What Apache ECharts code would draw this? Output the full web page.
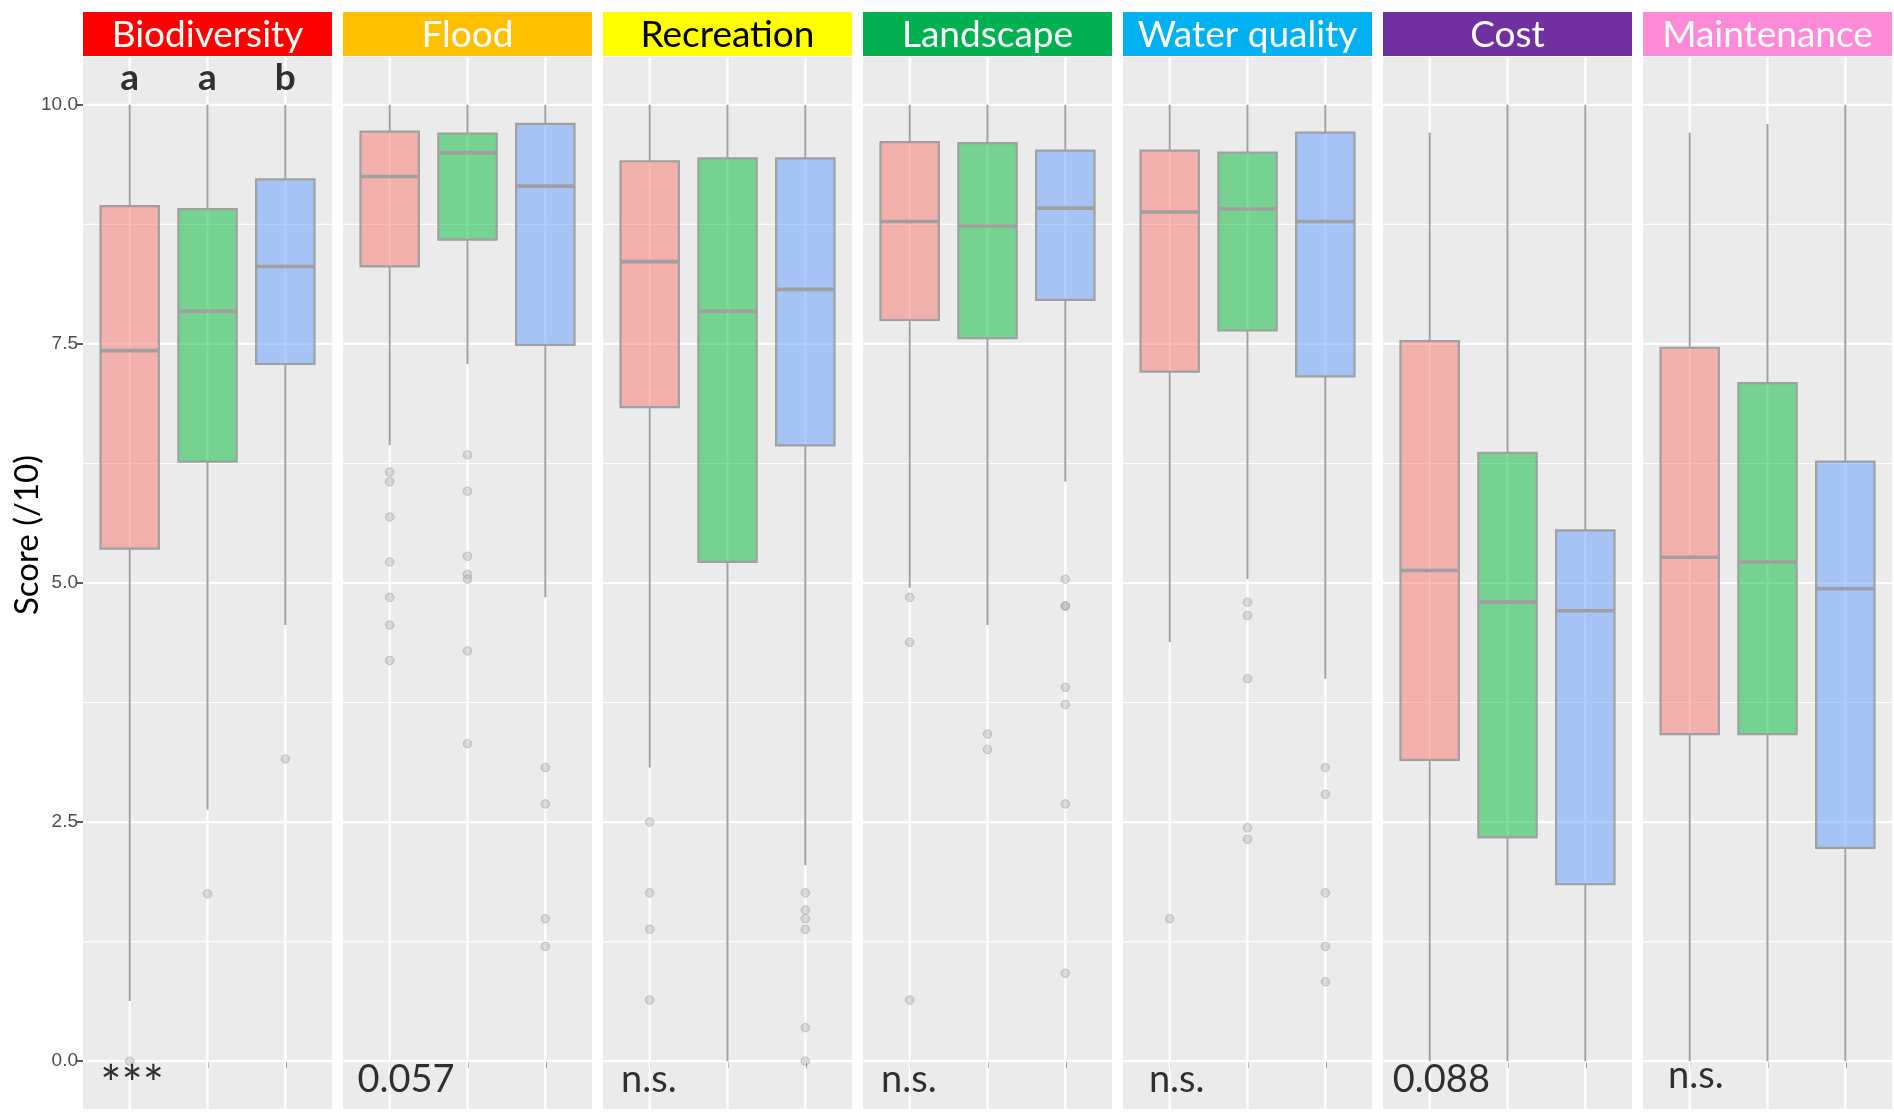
<!DOCTYPE html>
<html>
<head>
<meta charset="utf-8">
<script src="https://cdn.jsdelivr.net/npm/echarts@6/dist/echarts.min.js"></script>
<style>
  html, body { margin: 0; padding: 0; background: #ffffff; }
  #chart { width: 1894px; height: 1116px; }
</style>
</head>
<body>
<div id="chart"></div>
<script>
// Facet titles and their strip colours
const services = ['Biodiversity', 'Flood', 'Recreation', 'Landscape', 'Water quality', 'Cost', 'Maintenance'];
const stripColors = ['#FF0000', '#FFC000', '#FFFF00', '#00B050', '#00B0F0', '#7030A0', '#FF8AD8'];
const stripTextColors = ['#FFFFFF', '#FFFFFF', '#000000', '#FFFFFF', '#FFFFFF', '#FFFFFF', '#FFFFFF'];

// Three respondent groups inside each facet
const groupPositions = [1, 2, 3];
const groupFills = ['rgba(248,118,109,0.5)', 'rgba(0,186,56,0.5)', 'rgba(97,156,255,0.5)'];

// Score axis
const yTicks = [0, 2.5, 5, 7.5, 10];
const yMinorTicks = [1.25, 3.75, 6.25, 8.75];

// Five-number summaries per group: [lower whisker, Q1, median, Q3, upper whisker]
const biodiversityBoxes = [[0.63, 5.36, 7.43, 8.94, 10], [2.63, 6.27, 7.84, 8.91, 10], [4.56, 7.29, 8.31, 9.22, 10]];
const floodBoxes = [[6.44, 8.31, 9.25, 9.72, 10], [7.29, 8.59, 9.50, 9.70, 10], [4.85, 7.49, 9.15, 9.80, 10]];
const recreationBoxes = [[3.07, 6.84, 8.36, 9.41, 10], [0, 5.22, 7.84, 9.44, 10], [2.05, 6.44, 8.07, 9.44, 10]];
const landscapeBoxes = [[4.95, 7.75, 8.78, 9.61, 10], [4.56, 7.56, 8.73, 9.60, 10], [6.06, 7.96, 8.92, 9.52, 10]];
const waterQualityBoxes = [[4.38, 7.21, 8.88, 9.52, 10], [5.04, 7.64, 8.91, 9.50, 10], [4.00, 7.16, 8.78, 9.71, 10]];
const costBoxes = [[0, 3.15, 5.13, 7.53, 9.71], [0, 2.34, 4.80, 6.36, 10], [0, 1.85, 4.71, 5.55, 10]];
const maintenanceBoxes = [[0, 3.42, 5.27, 7.46, 9.71], [0, 3.42, 5.22, 7.09, 9.80], [0, 2.23, 4.94, 6.27, 10]];

// Outlying scores per group
const biodiversityOutliers = [[0], [1.75], [3.16]];
const floodOutliers = [[6.16, 6.06, 5.69, 5.22, 4.85, 4.56, 4.19], [6.34, 5.96, 5.28, 5.09, 5.04, 4.29, 3.32], [3.07, 2.69, 1.49, 1.20]];
const recreationOutliers = [[2.50, 1.76, 1.38, 0.64], [], [1.76, 1.58, 1.49, 1.38, 0.35, 0]];
const landscapeOutliers = [[4.85, 4.38, 0.64], [3.42, 3.26], [5.04, 4.76, 4.76, 3.91, 3.73, 2.69, 0.92]];
const waterQualityOutliers = [[1.49], [4.80, 4.66, 4.00, 2.44, 2.32], [3.07, 2.79, 1.76, 1.20, 0.83]];
const costOutliers = [[], [], []];
const maintenanceOutliers = [[], [], []];

// Test results written under each facet, and group letters above Biodiversity
const significanceText = ['***', '0.057', 'n.s.', 'n.s.', 'n.s.', '0.088', 'n.s.'];
const significanceX = [1.03, 1.21, 0.99, 0.99, 1.09, 1.15, 1.08];
const significanceY = [-0.26, -0.19, -0.19, -0.19, -0.19, -0.19, -0.15];
const biodiversityLetters = ['a', 'a', 'b'];
const lettersY = 10.28;

const boxesByService = [biodiversityBoxes, floodBoxes, recreationBoxes, landscapeBoxes, waterQualityBoxes, costBoxes, maintenanceBoxes];
const outliersByService = [biodiversityOutliers, floodOutliers, recreationOutliers, landscapeOutliers, waterQualityOutliers, costOutliers, maintenanceOutliers];

// Panel geometry
const PANEL_LEFT = 83, PANEL_STEP = 260, PANEL_W = 249, PANEL_TOP = 57, PANEL_H = 1052;
const STRIP_TOP = 12, STRIP_H = 44;
const BOX_WIDTH = 0.75;
const LINE_COLOR = '#A0A0A0';
const TEXT_FONT = 'Lato';

function renderGridLine(params, api) {
  const cs = params.coordSys;
  const kind = api.value(2);
  if (kind === 2) {
    const x = api.coord([api.value(0), 5])[0];
    return { type: 'line', shape: { x1: x, y1: cs.y, x2: x, y2: cs.y + cs.height },
      style: { stroke: '#FFFFFF', lineWidth: 2.2 } };
  }
  const y = api.coord([2, api.value(1)])[1];
  return { type: 'line', shape: { x1: cs.x, y1: y, x2: cs.x + cs.width, y2: y },
    style: { stroke: '#FFFFFF', lineWidth: kind === 0 ? 2.2 : 1.1 } };
}

function renderBox(params, api) {
  const x = api.value(0);
  const g = api.value(6);
  const half = api.size([BOX_WIDTH, 0])[0] / 2;
  const low = api.coord([x, api.value(1)]);
  const q1 = api.coord([x, api.value(2)]);
  const med = api.coord([x, api.value(3)]);
  const q3 = api.coord([x, api.value(4)]);
  const up = api.coord([x, api.value(5)]);
  const lineStyle = { stroke: LINE_COLOR, lineWidth: 2 };
  return {
    type: 'group',
    children: [
      { type: 'line', shape: { x1: up[0], y1: up[1], x2: q3[0], y2: q3[1] }, style: lineStyle },
      { type: 'line', shape: { x1: q1[0], y1: q1[1], x2: low[0], y2: low[1] }, style: lineStyle },
      { type: 'rect', shape: { x: q3[0] - half, y: q3[1], width: half * 2, height: q1[1] - q3[1] },
        style: { fill: groupFills[g], stroke: LINE_COLOR, lineWidth: 2.2 } },
      { type: 'line', shape: { x1: med[0] - half, y1: med[1], x2: med[0] + half, y2: med[1] },
        style: { stroke: LINE_COLOR, lineWidth: 3.6 } }
    ]
  };
}

const grids = [], xAxes = [], yAxes = [], series = [], graphics = [];

services.forEach(function (name, i) {
  const left = PANEL_LEFT + i * PANEL_STEP;
  grids.push({ left: left, top: PANEL_TOP, width: PANEL_W, height: PANEL_H,
    show: true, backgroundColor: '#EBEBEB', borderWidth: 0 });

  xAxes.push({
    type: 'value', gridIndex: i, min: 0.4, max: 3.6,
    axisLine: { show: false }, axisLabel: { show: false }, splitLine: { show: false },
    axisTick: { show: true, customValues: groupPositions, length: 7, lineStyle: { color: '#333333', width: 1.6 } }
  });

  const yAxis = {
    type: 'value', gridIndex: i, min: -0.5, max: 10.5,
    axisLine: { show: false }, splitLine: { show: false }
  };
  if (i === 0) {
    yAxis.axisTick = { show: true, customValues: yTicks, length: 6, lineStyle: { color: '#333333', width: 1.6 } };
    yAxis.axisLabel = { show: true, customValues: yTicks, margin: 5, fontSize: 19,
      fontFamily: 'Liberation Sans', color: '#4D4D4D',
      formatter: function (v) { return Number(v).toFixed(1); } };
  } else {
    yAxis.axisTick = { show: false };
    yAxis.axisLabel = { show: false };
  }
  yAxes.push(yAxis);

  // background grid lines
  const gridLineData = yTicks.map(function (v) { return [2, v, 0]; })
    .concat(yMinorTicks.map(function (v) { return [2, v, 1]; }))
    .concat(groupPositions.map(function (x) { return [x, 5, 2]; }));
  series.push({ type: 'custom', xAxisIndex: i, yAxisIndex: i, z: 1, silent: true,
    renderItem: renderGridLine, encode: { x: 0, y: 1 }, data: gridLineData });

  // boxes and whiskers
  const boxData = boxesByService[i].map(function (b, g) { return [groupPositions[g]].concat(b).concat([g]); });
  series.push({ type: 'custom', xAxisIndex: i, yAxisIndex: i, z: 2, silent: true,
    renderItem: renderBox, encode: { x: 0, y: [1, 2, 3, 4, 5] }, data: boxData });

  // outliers
  const outData = [];
  outliersByService[i].forEach(function (vals, g) {
    vals.forEach(function (v) { outData.push([groupPositions[g], v]); });
  });
  series.push({ type: 'scatter', xAxisIndex: i, yAxisIndex: i, z: 3, silent: true,
    symbol: 'circle', symbolSize: 8.5, data: outData,
    itemStyle: { color: 'rgba(165,165,165,0.45)', borderColor: 'rgba(150,150,150,0.6)', borderWidth: 1 } });

  // annotation text
  const noteLabel = { formatter: significanceText[i] };
  if (significanceText[i] === '***') { noteLabel.fontSize = 50; }
  const notes = [{ value: [significanceX[i], significanceY[i]], label: noteLabel }];
  if (i === 0) {
    biodiversityLetters.forEach(function (t, g) {
      notes.push({ value: [groupPositions[g], lettersY],
        label: { formatter: t, fontWeight: 'bold', fontSize: 37 } });
    });
  }
  series.push({ type: 'scatter', xAxisIndex: i, yAxisIndex: i, z: 4, silent: true,
    symbolSize: 1, itemStyle: { color: 'rgba(0,0,0,0)' }, data: notes,
    label: { show: true, position: 'inside', color: '#000000', fontSize: 38, fontFamily: TEXT_FONT } });

  // facet strip
  graphics.push({ type: 'rect', shape: { x: left, y: STRIP_TOP, width: PANEL_W, height: STRIP_H },
    style: { fill: stripColors[i] } });
  graphics.push({ type: 'text', x: left + PANEL_W / 2, y: STRIP_TOP + STRIP_H / 2 + 1,
    style: { text: name, fill: stripTextColors[i], fontSize: 37, fontFamily: TEXT_FONT,
      align: 'center', verticalAlign: 'middle' } });
});

graphics.push({ type: 'text', x: 27, y: 535, rotation: Math.PI / 2,
  style: { text: 'Score (/10)', fill: '#000000', fontSize: 33, fontFamily: TEXT_FONT,
    align: 'center', verticalAlign: 'middle' } });

const chart = echarts.init(document.getElementById('chart'), null, { renderer: 'canvas' });
chart.setOption({
  animation: false,
  backgroundColor: '#FFFFFF',
  grid: grids,
  xAxis: xAxes,
  yAxis: yAxes,
  series: series,
  graphic: graphics
});
</script>
</body>
</html>
